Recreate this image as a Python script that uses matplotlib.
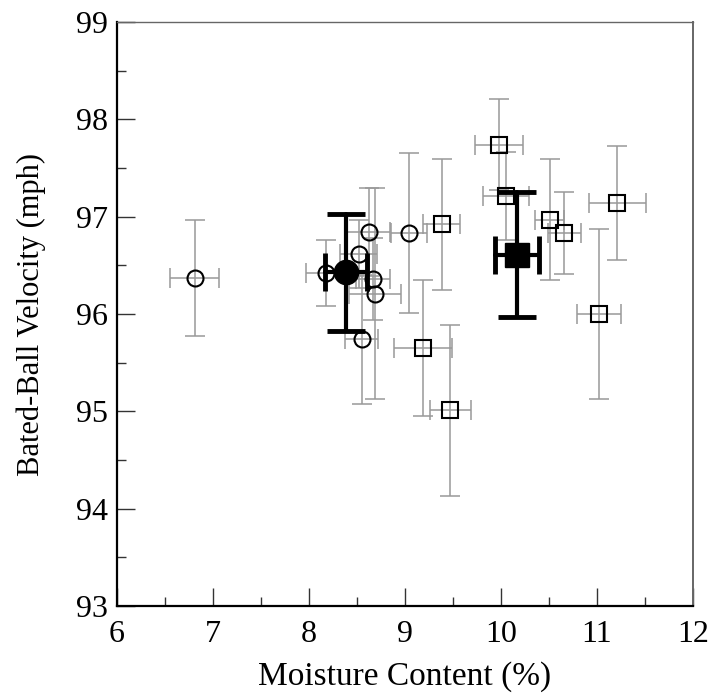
import matplotlib
matplotlib.use("Agg")
import matplotlib.pyplot as plt
from matplotlib.ticker import MultipleLocator

plt.rcParams['font.family'] = ['Liberation Serif', 'DejaVu Serif']

# Open circles (group 1)
circ_x = [6.81, 8.18, 8.52, 8.625, 8.667, 8.69, 8.55, 9.045]
circ_y = [96.37, 96.42, 96.62, 96.84, 96.36, 96.21, 95.74, 96.83]
circ_xerr = [0.26, 0.21, 0.19, 0.225, 0.18, 0.27, 0.17, 0.19]
circ_yerr = [0.60, 0.34, 0.35, 0.45, 0.42, 1.08, 0.66, 0.82]

# Open squares (group 2)
sq_x = [9.385, 9.986, 10.05, 10.51, 10.663, 11.215, 11.027, 9.19, 9.476]
sq_y = [96.92, 97.74, 97.21, 96.97, 96.83, 97.14, 96.00, 95.65, 95.01]
sq_xerr = [0.19, 0.25, 0.24, 0.15, 0.17, 0.30, 0.23, 0.30, 0.21]
sq_yerr = [0.67, 0.47, 0.45, 0.62, 0.42, 0.59, 0.87, 0.70, 0.88]

# Group means (filled)
mean_circ = (8.385, 96.43, 0.22, 0.60)
mean_sq = (10.167, 96.61, 0.23, 0.645)

fig = plt.figure(figsize=(7.12, 6.96), dpi=100)
ax = fig.add_axes([0.164, 0.1293, 0.809, 0.8391])

grey = '#999999'
ax.errorbar(circ_x, circ_y, xerr=circ_xerr, yerr=circ_yerr, fmt='none',
            ecolor=grey, elinewidth=1.1, capsize=7, capthick=1.1, zorder=1)
ax.errorbar(sq_x, sq_y, xerr=sq_xerr, yerr=sq_yerr, fmt='none',
            ecolor=grey, elinewidth=1.1, capsize=7, capthick=1.1, zorder=1)
ax.plot(circ_x, circ_y, 'o', ms=11.5, mfc='none', mec='black', mew=1.5, zorder=3)
ax.plot(sq_x, sq_y, 's', ms=11, mfc='none', mec='black', mew=1.5, zorder=3)

for (mx, my, mxe, mye), mk in [(mean_circ, 'o'), (mean_sq, 's')]:
    _, caps, bars = ax.errorbar([mx], [my], xerr=[mxe], yerr=[mye], fmt=mk, ms=17.5,
                                mfc='black', mec='black', ecolor='black', elinewidth=3,
                                capsize=14, capthick=3.5, zorder=5)
    for b in bars:
        b.set_capstyle('round')

ax.set_xlim(6, 12)
ax.set_ylim(93, 99)
ax.xaxis.set_major_locator(MultipleLocator(1))
ax.xaxis.set_minor_locator(MultipleLocator(0.5))
ax.yaxis.set_major_locator(MultipleLocator(1))
ax.yaxis.set_minor_locator(MultipleLocator(0.5))
ax.tick_params(which='major', direction='in', length=13, width=1, color='#333333',
               labelsize=23, top=False, right=False)
ax.tick_params(axis='x', which='major', pad=10)
ax.tick_params(axis='y', which='major', pad=6)
ax.tick_params(which='minor', direction='in', length=6.5, width=1, color='#333333',
               top=False, right=False)
ax.spines['bottom'].set_linewidth(1.6)
ax.spines['left'].set_linewidth(1.6)
ax.spines['top'].set_linewidth(1.0)
ax.spines['right'].set_linewidth(1.4)
ax.spines['right'].set_color('#666666')
ax.spines['top'].set_color('#666666')

ax.set_xlabel('Moisture Content (%)', fontsize=24, labelpad=9)
ax.set_ylabel('Bated-Ball Velocity (mph)', fontsize=22, labelpad=22)

fig.savefig('out.png', dpi=100)
